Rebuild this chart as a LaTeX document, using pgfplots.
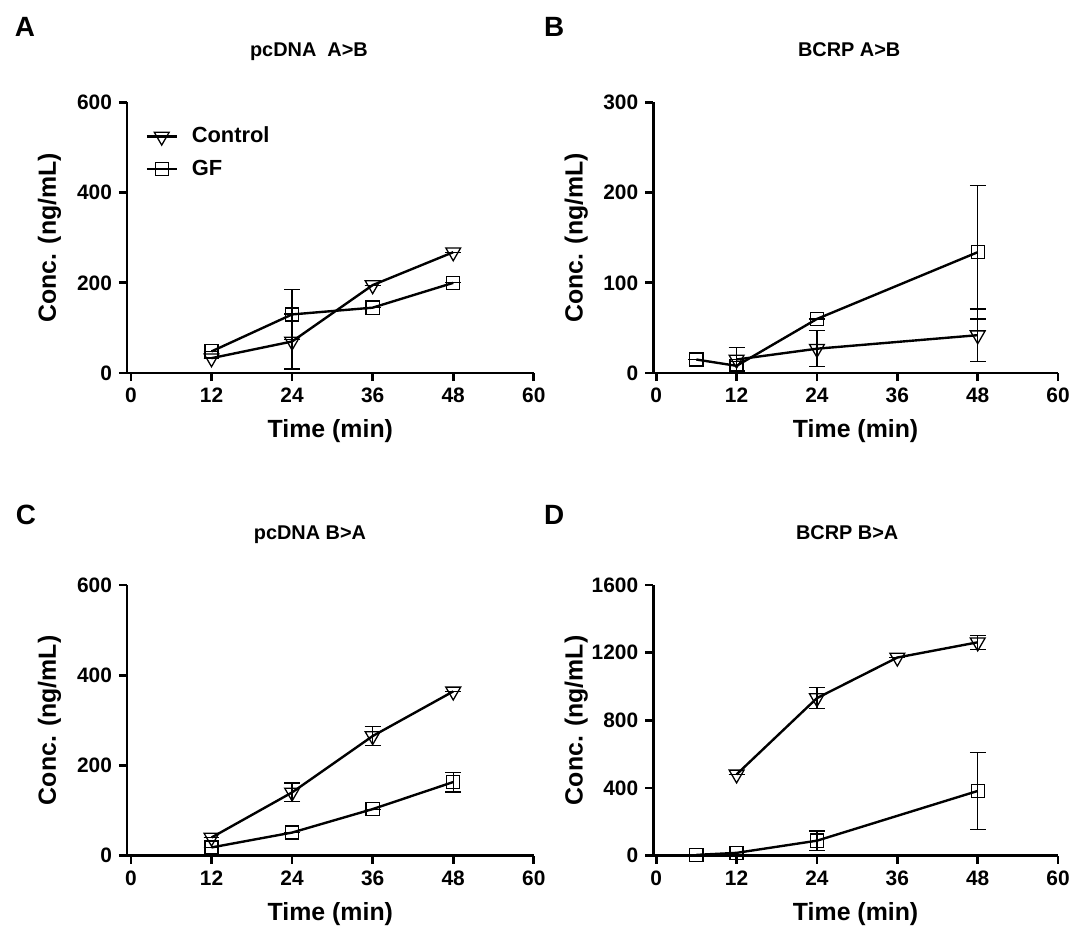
\documentclass[border=0pt]{standalone}
\usepackage{fontspec}
\setmainfont{Liberation Sans}
\usepackage{pgfplots}
\pgfplotsset{compat=1.18}
\begin{document}
\pgfplotsset{
  panel/.style={
    scale only axis,
    axis lines=left,
    axis line style={-, line width=1.4pt},
    tick style={line width=1.4pt, black},
    tick align=outside,
    major tick length=4pt,
    xmax=60,
    xtick={0,12,24,36,48,60},
    ymin=0,
    /pgf/number format/assume math mode=true,
    /pgf/number format/1000 sep={},
    tick label style={font=\bfseries\fontsize{10.5}{12}\selectfont},
    xlabel={Time (min)},
    ylabel={Conc. (ng/mL)},
    label style={font=\bfseries\fontsize{12.5}{14}\selectfont},
    xlabel style={at={(axis description cs:0.5,0)}, anchor=base, yshift=-32.5pt},
    ylabel style={at={(axis description cs:-0.19,0.5)}, anchor=center},
    title style={at={(axis description cs:0.5,1)}, anchor=base, yshift=17pt, font=\bfseries\fontsize{10}{12}\selectfont},
    height=136pt,
    clip=false,
    error bars/y dir=both,
    error bars/y explicit,
    error bars/error bar style={line width=0.6pt, black},
    error bars/error mark options={rotate=90, mark size=4pt, line width=0.6pt, black},
  },
  ctrl/.style={black, line width=1.2pt, mark=triangle, mark size=4.3pt, mark options={rotate=180, line width=0.65pt, fill=none, solid}},
  gf/.style={black, line width=1.2pt, mark=square, mark size=3.3pt, mark options={line width=0.65pt, fill=none, solid}},
}
\begin{tikzpicture}
\path[use as bounding box] (0,0) rectangle (536.5pt,465pt);
% Panel A
\begin{axis}[panel, at={(61pt,277.5pt)}, anchor=south west, width=204.5pt, xmin=-0.6,
  ymax=600, ytick={0,200,400,600}, title={pcDNA\ \ A>B},
  title style={xshift=-10.75pt},
  legend image code/.code={\draw[mark repeat=2,mark phase=2] plot coordinates {(0pt,0pt) (7.5pt,0pt) (15pt,0pt)};},
  legend style={at={(axis description cs:0.045,0.925)}, anchor=north west, draw=none, fill=none,
    font=\bfseries\fontsize{11}{13}\selectfont, row sep=3pt, inner sep=0pt,
    /tikz/every odd column/.append style={column sep=5pt}},
  legend cell align=left]
\addplot[ctrl] coordinates {(12,33) +- (0,0) (24,70) +- (0,61) (36,195) +- (0,0) (48,268) +- (0,0)};
\addlegendentry{Control}
\addplot[gf] coordinates {(12,48) +- (0,0) (24,130) +- (0,55) (36,145) +- (0,0) (48,200) +- (0,0)};
\addlegendentry{GF}
\end{axis}
% Panel B
\begin{axis}[panel, at={(325.5pt,277.5pt)}, anchor=south west, width=203.5pt, xmin=-0.45,
  ymax=300, ytick={0,100,200,300}, title={BCRP A>B}, title style={xshift=-3.25pt}]
\addplot[ctrl] coordinates {(12,15) +- (0,13) (24,27) +- (0,20) (48,42) +- (0,29)};
\addplot[gf] coordinates {(6,15) +- (0,0) (12,8) +- (0,5) (24,60) +- (0,0) (48,134) +- (0,74)};
\end{axis}
% Panel C
\begin{axis}[panel, at={(61pt,35pt)}, anchor=south west, width=204.5pt, xmin=-0.6,
  ymax=600, ytick={0,200,400,600}, title={pcDNA B>A}, title style={xshift=-10.25pt}]
\addplot[ctrl] coordinates {(12,40) +- (0,0) (24,140) +- (0,21) (36,265) +- (0,21) (48,364) +- (0,0)};
\addplot[gf] coordinates {(12,18) +- (0,0) (24,51) +- (0,0) (36,103) +- (0,0) (48,163) +- (0,22)};
\end{axis}
% Panel D
\begin{axis}[panel, at={(325.5pt,35pt)}, anchor=south west, width=203.5pt, xmin=-0.45,
  ymax=1600, ytick={0,400,800,1200,1600}, title={BCRP B>A}, title style={xshift=-4.25pt}]
\addplot[ctrl] coordinates {(12,480) +- (0,0) (24,931) +- (0,63) (36,1171) +- (0,0) (48,1261) +- (0,42)};
\addplot[gf] coordinates {(6,4) +- (0,0) (12,16) +- (0,0) (24,88) +- (0,57) (48,382) +- (0,228)};
\end{axis}
\node[anchor=base west, font=\bfseries\fontsize{14}{16}\selectfont, inner sep=0pt] at (4.5pt,446.5pt) {A};
\node[anchor=base west, font=\bfseries\fontsize{14}{16}\selectfont, inner sep=0pt] at (270.5pt,446.5pt) {B};
\node[anchor=base west, font=\bfseries\fontsize{14}{16}\selectfont, inner sep=0pt] at (5pt,201.5pt) {C};
\node[anchor=base west, font=\bfseries\fontsize{14}{16}\selectfont, inner sep=0pt] at (270.5pt,201.5pt) {D};
\end{tikzpicture}
\end{document}
